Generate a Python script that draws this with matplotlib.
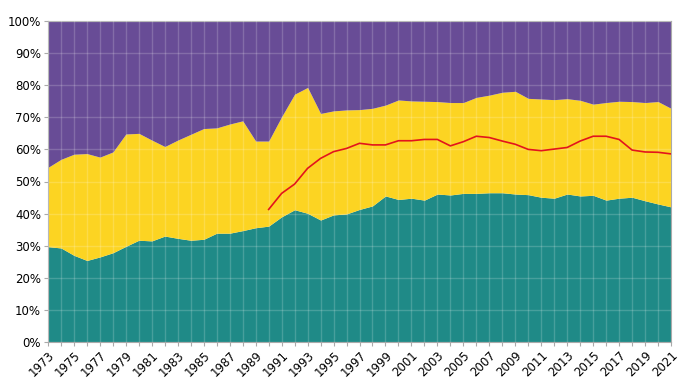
import matplotlib
matplotlib.use("Agg")
import matplotlib.pyplot as plt
import numpy as np

years = list(range(1973, 2022))

# bottom (teal) share, %
teal = [29.7, 29.3, 27.0, 25.4, 26.5, 27.8, 29.8, 31.7, 31.5, 33.0,
        32.3, 31.7, 32.0, 33.9, 33.9, 34.7, 35.6, 36.1, 39.0, 41.2,
        40.1, 38.0, 39.6, 39.9, 41.3, 42.4, 45.5, 44.4, 44.8, 44.2,
        46.1, 45.8, 46.3, 46.3, 46.5, 46.5, 46.1, 45.9, 45.1, 44.8,
        46.1, 45.5, 45.7, 44.2, 44.8, 45.1, 44.0, 43.0, 42.1]

# cumulative top of the yellow band, %
yellow_top = [54.4, 56.9, 58.5, 58.7, 57.6, 59.2, 64.8, 65.0, 62.9, 60.9,
              62.9, 64.7, 66.5, 66.7, 67.9, 68.9, 62.6, 62.6, 70.2, 77.2,
              79.3, 71.2, 72.0, 72.3, 72.4, 72.8, 73.8, 75.4, 75.1, 75.0,
              74.9, 74.6, 74.6, 76.2, 76.9, 77.8, 78.1, 75.9, 75.7, 75.5,
              75.8, 75.3, 74.1, 74.6, 75.0, 74.9, 74.6, 74.9, 72.8]

red_years = list(range(1990, 2022))
red = [41.3, 46.3, 49.2, 54.1, 57.2, 59.3, 60.3, 61.9, 61.4, 61.4,
       62.7, 62.7, 63.1, 63.1, 61.1, 62.4, 64.1, 63.7, 62.6, 61.6,
       60.0, 59.6, 60.1, 60.6, 62.6, 64.1, 64.1, 63.1, 59.8, 59.2,
       59.1, 58.6]

yticks = list(range(0, 101, 10))
xlabels = list(range(1973, 2022, 2))

c_teal = "#1f8a87"
c_yellow = "#fcd422"
c_purple = "#684c96"
c_red = "#e3141c"

fig = plt.figure(figsize=(6.88, 3.87), dpi=100)
ax = fig.add_axes([48/688, 45/387, (671-48)/688, (342-21)/387])

yr = np.array(years)
t = np.array(teal)
yt = np.array(yellow_top)
ax.fill_between(yr, 0, t, color=c_teal, linewidth=0, zorder=1)
ax.fill_between(yr, t, yt, color=c_yellow, linewidth=0, zorder=1)
ax.fill_between(yr, yt, 100, color=c_purple, linewidth=0, zorder=1)
ax.plot(red_years, red, color=c_red, linewidth=1.2, zorder=3)

ax.set_xlim(1973, 2021)
ax.set_ylim(0, 100)

ax.set_xticks(years, minor=False)
ax.set_xticklabels([str(y) if y in xlabels else "" for y in years],
                   rotation=45, ha="right", rotation_mode="anchor", fontsize=8.5)
ax.set_yticks(yticks)
ax.set_yticklabels([f"{v}%" for v in yticks], fontsize=8.5)

ax.grid(True, color="white", alpha=0.18, linewidth=1.0, zorder=2)
ax.set_axisbelow(False)
for s in ax.spines.values():
    s.set_color("#aaaaaa")
    s.set_linewidth(0.8)
ax.tick_params(axis="both", length=3, width=0.8, color="#aaaaaa", pad=2)

fig.savefig("out.png", dpi=100)
